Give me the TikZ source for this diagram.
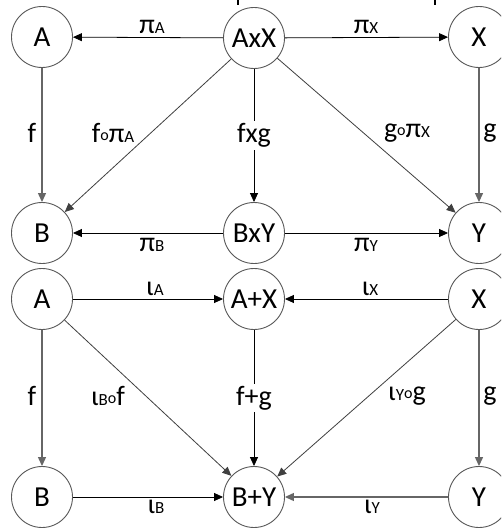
\documentclass[tikz,border=0pt]{standalone}
\usepackage{fontspec}
\setmainfont{Carlito}
\usetikzlibrary{arrows.meta}
\newcommand{\lsub}[1]{{\fontsize{17}{17}\selectfont #1}}
\newcommand{\cmp}{{\fontsize{16}{16}\selectfont\raisebox{2pt}{o}}}
\tikzset{
  obj/.style={circle, draw=black!65, line width=0.9pt, minimum size=61pt,
    inner sep=0pt, font=\fontsize{29}{29}\selectfont},
  lbl/.style={inner sep=1pt, font=\fontsize{28}{28}\selectfont},
  onl/.style={lbl, fill=white, inner sep=2pt},
  arr/.style={-{Triangle[length=9pt,width=8pt]}, line width=0.8pt},
  varr/.style={arr, draw=black!60, line width=1.2pt},
  darr/.style={arr, draw=black!75},
}
\begin{document}
\begin{tikzpicture}[x=1pt,y=-1pt]
\useasboundingbox (0,0) rectangle (501,529);
\clip (0,0) rectangle (501,529);
\fill[white] (0,0) rectangle (501,529);

% strokes of the heading above, cut by the top edge
\draw[line width=1.6pt] (238,0) -- (238,5);
\draw[line width=1.6pt] (435,0) -- (435,5);

% ---- product square ----
\node[obj] (pA)  at (42,37)   {A};
\node[obj] (pAX) at (254,38)  {AxX};
\node[obj] (pX)  at (479,37)  {X};
\node[obj] (pB)  at (42,233)  {B};
\node[obj] (pBY) at (254,233) {BxY};
\node[obj] (pY)  at (479,233) {Y};

\draw[arr] (pAX) -- (pA);
\draw[arr] (pAX) -- (pX);
\draw[varr] (pA) -- (pB);
\draw[varr] (pX) -- (pY);
\draw[darr] (pAX) -- (pB);
\draw[darr] (pAX) -- (pY);
\draw[arr] (pBY) -- (pB);
\draw[arr] (pBY) -- (pY);
\draw[arr] (pAX) -- (pBY) node[onl, pos=0.5] (lfxg) {fxg};

\node[lbl] (lpiA) at (152,27)  {π\lsub{A}};
\node[lbl] (lpiX) at (366,27)  {π\lsub{X}};
\node[lbl] (lf1)  at (32,133)  {f};
\node[lbl] (lfpA) at (113,133) {f\cmp π\lsub{A}};
\node[lbl] (lgpX) at (407,133) {g\cmp π\lsub{X}};
\node[lbl] (lg1)  at (490,133) {g};
\node[lbl] (lpiB) at (152,245) {π\lsub{B}};
\node[lbl] (lpiY) at (366,245) {π\lsub{Y}};

% ---- coproduct square ----
\node[obj] (cA)  at (42,299)  {A};
\node[obj] (cAX) at (254,299) {A+X};
\node[obj] (cX)  at (479,299) {X};
\node[obj] (cB)  at (42,497)  {B};
\node[obj] (cBY) at (254,497) {B+Y};
\node[obj] (cY)  at (479,497) {Y};

\draw[arr] (cA) -- (cAX);
\draw[arr] (cX) -- (cAX);
\draw[varr] (cA) -- (cB);
\draw[varr] (cX) -- (cY);
\draw[darr] (cA) -- (cBY);
\draw[darr] (cX) -- (cBY);
\draw[arr] (cB) -- (cBY);
\draw[varr] (cY) -- (cBY);
\draw[arr] (cAX) -- (cBY) node[onl, pos=0.5] (lfpg) {f+g};

\node[lbl] (liA)  at (155,289) {ι\lsub{A}};
\node[lbl] (liX)  at (370,289) {ι\lsub{X}};
\node[lbl] (lf2)  at (32,396)  {f};
\node[lbl] (libf) at (108,396) {ι\lsub{B}\cmp f};
\node[lbl] (liyg) at (407,396) {ι\lsub{Y}\cmp g};
\node[lbl] (lg2)  at (490,396) {g};
\node[lbl] (liB)  at (156,507) {ι\lsub{B}};
\node[lbl] (liY)  at (372,507) {ι\lsub{Y}};
\end{tikzpicture}
\end{document}
